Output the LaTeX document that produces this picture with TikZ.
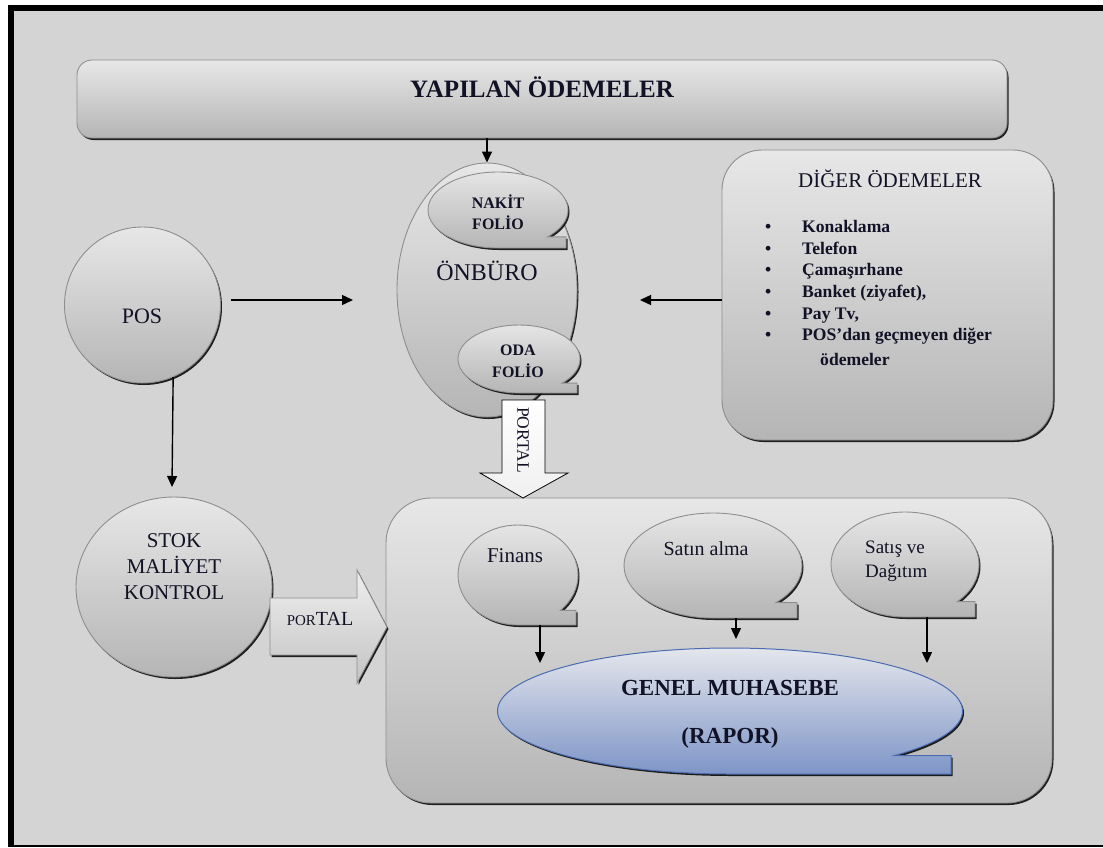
\documentclass[tikz,border=0pt]{standalone}
\usepackage{fontspec}
\setmainfont{Liberation Serif}
\usetikzlibrary{shadows,shapes.geometric,arrows.meta}
\definecolor{bg}{HTML}{D4D4D4}
\definecolor{gtop}{HTML}{E7E7E7}
\definecolor{gbot}{HTML}{B5B5B5}
\definecolor{edge}{HTML}{8E8E8E}
\definecolor{btop}{HTML}{E9EAEE}
\definecolor{bbot}{HTML}{7E95C7}
\definecolor{bedge}{HTML}{4B6CB0}
\definecolor{ink}{HTML}{121226}
\tikzset{
 shad/.style={drop shadow={shadow xshift=1.5pt, shadow yshift=-2pt, fill=black, opacity=0.85}},
 grayshape/.style={shad, draw=edge, line width=0.9pt, top color=gtop, bottom color=gbot},
 blueshape/.style={shad, draw=bedge, line width=1pt, top color=btop, bottom color=bbot},
 arr/.style={draw=black, line width=1.4pt, -{Triangle[length=11pt,width=10pt]}},
 lbl/.style={inner sep=0pt, text=ink, align=center},
 boxnode/.style={grayshape, inner sep=0pt},
}
\newcommand\bubble[6]{\path[#6] ({#1+0.7071*#3},{-#2-0.7071*#4}) arc[start angle=-45,end angle=270,x radius=#3,y radius=#4] -- (#5,{-#2-#4}) -- (#5,{-#2-0.7071*#4}) -- cycle;}
\begin{document}
\begin{tikzpicture}[x=1pt,y=1pt]
\useasboundingbox (0,0) rectangle (1103,-847);
\fill[white] (0,0) rectangle (1103,-847);
\fill[black] (8,-5) rectangle (1103,-847);
\fill[bg] (14,-11) rectangle (1103,-845);

% top bar
\node[boxnode, rounded corners=15pt, minimum width=930pt, minimum height=78pt] (topbar) at (542,-99) {};
\node[lbl, anchor=base, font=\fontsize{25}{30}\selectfont\bfseries] (toptext) at (542,-97) {YAPILAN ÖDEMELER};

% Onburo
\node[boxnode, ellipse, minimum width=180pt, minimum height=254pt] (onburo) at (487,-290) {};
\bubble{498}{210}{70}{38}{566}{grayshape}
\bubble{519}{359}{61}{34}{577}{grayshape}
\node[lbl, font=\fontsize{16}{21}\selectfont\bfseries] (nakit) at (498,-212) {NAKİT\\FOLİO};
\node[lbl, font=\fontsize{16}{22}\selectfont\bfseries] (oda) at (518,-361) {ODA\\FOLİO};
\node[lbl, anchor=base, font=\fontsize{24}{28}\selectfont] (onburotext) at (487,-280) {ÖNBÜRO};

% Diger odemeler
\node[boxnode, rounded corners=40pt, minimum width=331pt, minimum height=290pt] (diger) at (887.5,-295) {};
\node[lbl, anchor=base, font=\fontsize{21}{25}\selectfont] (digertitle) at (890,-187) {DİĞER ÖDEMELER};
\node[lbl, anchor=north west, align=left, font=\fontsize{17.6}{21.7}\selectfont\bfseries] (digerlist) at (765,-220)
{\makebox[37pt][l]{•}Konaklama\\
 \makebox[37pt][l]{•}Telefon\\
 \makebox[37pt][l]{•}Çamaşırhane\\
 \makebox[37pt][l]{•}Banket (ziyafet),\\
 \makebox[37pt][l]{•}Pay Tv,\\
 \makebox[37pt][l]{•}POS’dan geçmeyen diğer\\[3pt]
 \hspace*{55pt}ödemeler};

% POS and STOK
\node[boxnode, circle, minimum size=156pt] (pos) at (142.5,-305) {};
\node[lbl, anchor=base, font=\fontsize{22}{26}\selectfont] (postext) at (142,-323) {POS};
\node[boxnode, ellipse, minimum width=196pt, minimum height=180pt] (stok) at (174,-587) {};
\node[lbl, font=\fontsize{21}{26}\selectfont] (stoktext) at (174,-567) {STOK\\MALİYET\\KONTROL};

% bottom box
\node[boxnode, rounded corners=45pt, minimum width=666pt, minimum height=305pt] (bottombox) at (719,-650.5) {};
\bubble{518}{575}{60}{50}{576}{grayshape}
\bubble{713}{565.5}{89}{52.5}{797}{grayshape}
\bubble{905}{564.5}{74}{52.5}{975}{grayshape}
\node[lbl, anchor=base, font=\fontsize{21}{25}\selectfont] (finans) at (515,-562) {Finans};
\node[lbl, anchor=base, font=\fontsize{20}{24}\selectfont] (satin) at (706,-555) {Satın alma};
\node[lbl, anchor=west, align=left, font=\fontsize{19}{24}\selectfont] (satis) at (865,-561.5) {Satış ve\\Dağıtım};
\bubble{730}{711}{232.5}{63}{951}{blueshape}
\node[lbl, font=\fontsize{23}{48}\selectfont\bfseries] (genel) at (730,-714) {GENEL MUHASEBE\\(RAPOR)};

% PORTAL arrows
\path[shad, draw=edge, line width=0.9pt, top color=gtop!70!white, bottom color=gbot!80!white]
 (270,-598) -- (357,-598) -- (357,-570) -- (387,-627) -- (357,-683) -- (357,-655) -- (270,-655) -- cycle;
\node[lbl, anchor=base] (portalh) at (320,-625) {\fontsize{15}{18}\selectfont POR\fontsize{20}{22}\selectfont TAL};
\path[draw=black, line width=0.8pt, top color=white, bottom color=gray!12]
 (502,-400) -- (545,-400) -- (545,-473) -- (568,-473) -- (523,-498) -- (480,-473) -- (502,-473) -- cycle;
\node[lbl, rotate=-90, font=\fontsize{17.5}{20}\selectfont] (portalv) at (523,-440) {PORTAL};

% connectors
\draw[arr] (topbar.south -| onburo.north) -- (onburo.north);
\coordinate (posR) at (353,-300);
\draw[arr] ([xshift=10pt,yshift=5pt]pos.east) -- (posR);
\coordinate (stokT) at (172,-487);
\draw[arr] (pos.-67) -- (stokT);
\coordinate (digL) at (640,-300);
\draw[arr] ([yshift=-5pt]diger.west) -- (digL);
\coordinate (finB) at (540,-625);
\coordinate (genA) at (540,-663);
\draw[arr] (finB) -- (genA);
\coordinate (satinB) at (736,-618);
\coordinate (genB) at (736,-639);
\draw[arr] (satinB) -- (genB);
\coordinate (satisB) at (927,-617);
\coordinate (genC) at (927,-663);
\draw[arr] (satisB) -- (genC);
\end{tikzpicture}
\end{document}
